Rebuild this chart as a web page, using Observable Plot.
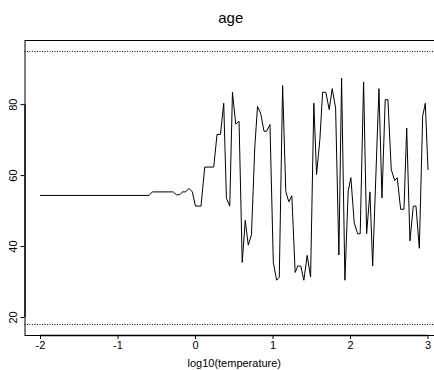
<!DOCTYPE html>
<html>
<head>
<meta charset="utf-8">
<script src="https://cdn.jsdelivr.net/npm/d3@7"></script>
<script src="https://cdn.jsdelivr.net/npm/@observablehq/plot@0.6"></script>
<style>
  html, body { margin: 0; padding: 0; background: #fff; overflow: hidden; }
  #chart { width: 450px; }
  #chart svg { display: block; max-width: none !important; width: 450px !important; height: 370px !important; }
</style>
</head>
<body>
<div id="chart"></div>
<script>
const chartTitle = "age";
const xLabel = "log10(temperature)";
const logTemp = [-2, -0.60, -0.557, -0.288, -0.247, -0.207, -0.165, -0.127, -0.084, -0.041,
  0.0, 0.071, 0.119, 0.235, 0.278, 0.322, 0.364, 0.399, 0.442, 0.477,
  0.519, 0.562, 0.603, 0.642, 0.681, 0.722, 0.765, 0.800, 0.840, 0.884,
  0.917, 0.961, 1.004, 1.047, 1.081, 1.124, 1.165, 1.204, 1.243, 1.286,
  1.320, 1.359, 1.398, 1.441, 1.485, 1.527, 1.562, 1.605, 1.640, 1.682,
  1.725, 1.764, 1.808, 1.850, 1.885, 1.928, 1.970, 2.005, 2.048, 2.092,
  2.125, 2.169, 2.208, 2.251, 2.286, 2.367, 2.406, 2.448, 2.483, 2.526,
  2.570, 2.603, 2.647, 2.690, 2.725, 2.767, 2.810, 2.845, 2.888, 2.931,
  2.965, 3.0];
const age = [54.4, 54.4, 55.4, 55.4, 54.6, 54.6, 55.4, 55.4, 56.4, 55.4,
  51.4, 51.4, 62.4, 62.4, 71.6, 71.6, 80.4, 53.6, 51.4, 83.5,
  74.5, 75.3, 35.5, 47.4, 40.4, 43.3, 68.0, 79.5, 77.6, 72.5,
  72.5, 74.4, 35.5, 30.5, 31.3, 85.4, 55.5, 52.6, 54.3, 32.7,
  34.5, 34.5, 30.5, 37.5, 31.4, 80.4, 60.3, 70.2, 83.5, 83.5,
  78.6, 84.5, 79.0, 37.6, 87.5, 30.5, 55.6, 59.4, 46.7, 43.6,
  43.6, 86.4, 43.6, 55.4, 34.5, 84.5, 53.7, 81.4, 81.4, 61.7,
  58.6, 59.4, 50.5, 50.5, 73.4, 41.6, 51.4, 51.4, 39.5, 76.7,
  80.4, 61.7];
const refLines = [18, 95];
const xTicks = [-2, -1, 0, 1, 2, 3];
const yTicks = [20, 40, 60, 80];

const data = logTemp.map((x, i) => ({x, y: age[i]}));
const xDomain = [-2.2, 3.2];
const yDomain = [14.92, 98.08];
const font = "Liberation Sans, Arial, Helvetica, sans-serif";

const plot = Plot.plot({
  width: 450,
  height: 370,
  marginTop: 40,
  marginBottom: 35,
  marginLeft: 24.5,
  marginRight: 7,
  style: {fontFamily: font, background: "#fff", color: "#000", overflow: "visible", maxWidth: "none"},
  x: {domain: xDomain, axis: null},
  y: {domain: yDomain, axis: null},
  marks: [
    Plot.frame({stroke: "#000", strokeWidth: 1}),
    Plot.ruleY(refLines, {stroke: "#000", strokeWidth: 1, strokeDasharray: "1,1.5"}),
    Plot.line(data, {x: "x", y: "y", stroke: "#000", strokeWidth: 1}),
    Plot.ruleY([yDomain[0]], {x1: xTicks[0], x2: xTicks[xTicks.length - 1], stroke: "#000", strokeWidth: 1.3}),
    Plot.ruleX([xDomain[0]], {y1: yTicks[0], y2: yTicks[yTicks.length - 1], stroke: "#000", strokeWidth: 1.3}),
    Plot.axisX(xTicks, {tickSize: 4, tickPadding: 2, fontSize: 11, tickFormat: d => String(d), label: null}),
    Plot.axisY(yTicks, {tickSize: 4, tickFormat: () => "", label: null}),
    Plot.text(yTicks, {y: d => d, text: d => String(d), frameAnchor: "left", dx: -12, rotate: -90, textAnchor: "middle", lineAnchor: "middle", fontSize: 11}),
    Plot.text([xLabel], {frameAnchor: "bottom", dy: 28, lineAnchor: "middle", fontSize: 11}),
    Plot.text([chartTitle], {frameAnchor: "top", dy: -22, dx: -3.5, lineAnchor: "middle", fontSize: 15})
  ]
});
document.getElementById("chart").appendChild(plot);
</script>
</body>
</html>
